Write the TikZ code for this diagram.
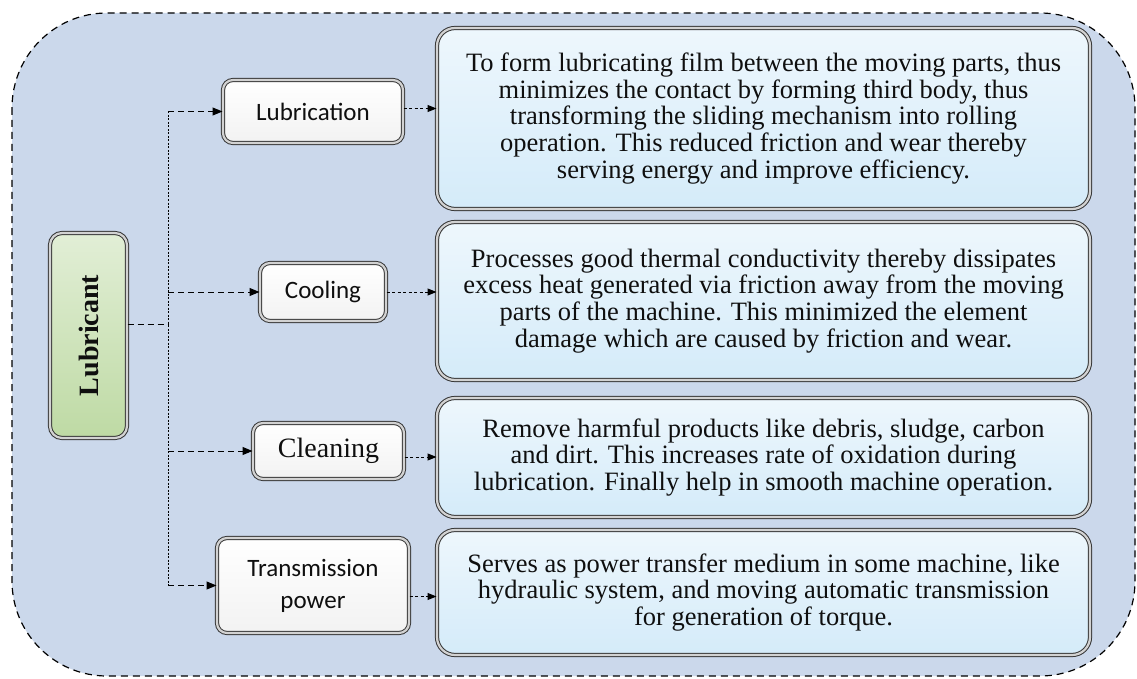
\documentclass[tikz,border=0pt]{standalone}
\usepackage{fontspec}
\setmainfont{Liberation Serif}
\newfontfamily\calfont{Carlito}
\usetikzlibrary{arrows.meta}

\definecolor{panelblue}{RGB}{203,216,235}
\definecolor{descblue}{RGB}{212,235,249}
\definecolor{lubgreen}{RGB}{190,218,164}
\definecolor{rimgray}{RGB}{55,55,55}
\definecolor{inkgray}{RGB}{15,15,15}

\tikzset{
  bevel/.style={draw=rimgray, line width=1pt, double=gray!35, double distance=2.2pt},
  lubbox/.style={bevel, rounded corners=12pt, top color=lubgreen!45!white, bottom color=lubgreen,
    text=inkgray, inner sep=0pt, font=\bfseries\fontsize{28}{30}\selectfont},
  rolebox/.style={bevel, rounded corners=10pt, top color=white, bottom color=gray!10,
    text=inkgray, align=center, inner sep=0pt, font=\calfont\fontsize{25}{32}\selectfont},
  descbox/.style={bevel, rounded corners=18pt, top color=descblue!40!white, bottom color=descblue,
    text=inkgray, align=center, inner sep=0pt, minimum width=653pt, font=\fontsize{26.5}{26.8}\selectfont},
  feed/.style={dash pattern=on 6pt off 4pt, line width=1pt},
  trunk/.style={dash pattern=on 2pt off 1.5pt, line width=1pt},
  branch/.style={dash pattern=on 6pt off 4pt, line width=1pt, -{Triangle[length=10pt,width=8pt]}},
  link/.style={dash pattern=on 3pt off 2.5pt, line width=1pt, -{Triangle[length=9pt,width=7pt]}}
}

\begin{document}
\begin{tikzpicture}[x=1pt, y=-1pt]

    \useasboundingbox (0,0) rectangle (1137,679);

    % Draw the dashed panel behind everything
    \draw[dash pattern=on 7pt off 5pt, line width=1.2pt, fill=panelblue, rounded corners=95pt]
        (12,13) rectangle (1135,676);

    % Main node on the left
    \node[lubbox, minimum width=77pt, minimum height=205pt] (lub) at (88.5,335.5) {\rotatebox{90}{Lubricant}};

    % Functions of the lubricant
    \node[rolebox, minimum width=180pt, minimum height=63pt] (lubr) at (313,111.5) {Lubrication};
    \node[rolebox, minimum width=126pt, minimum height=58pt] (cool) at (323,292) {Cooling};
    \node[rolebox, minimum width=151pt, minimum height=56pt, font=\fontsize{28}{30}\selectfont] (clean) at (328.5,451) {Cleaning};
    \node[rolebox, minimum width=192pt, minimum height=95pt] (trans) at (313,585.5) {Transmission\\power};

    % Descriptions on the right
    \node[descbox, minimum height=181pt] (d1) at (763.5,118.5) {To form lubricating film between the moving parts, thus\\
        minimizes the contact by forming third body, thus\\
        transforming the sliding mechanism into rolling\\
        operation. This reduced friction and wear thereby\\
        serving energy and improve efficiency.};
    \node[descbox, minimum height=158pt] (d2) at (763.5,301) {Processes good thermal conductivity thereby dissipates\\
        excess heat generated via friction away from the moving\\
        parts of the machine. This minimized the element\\
        damage which are caused by friction and wear.};
    \node[descbox, minimum height=119pt] (d3) at (763.5,457.5) {Remove harmful products like debris, sludge, carbon\\
        and dirt. This increases rate of oxidation during\\
        lubrication. Finally help in smooth machine operation.};
    \node[descbox, minimum height=125pt] (d4) at (763.5,592.5) {Serves as power transfer medium in some machine, like\\
        hydraulic system, and moving automatic transmission\\
        for generation of torque.};

    % Junction of the tree
    \coordinate (jt) at (168,324);

    % Draw the tree
    \draw[feed] (lub.east |- jt) -- (jt);
    \draw[trunk] (jt |- lubr) -- (jt |- trans);
    \draw[branch] (jt |- lubr) -- (lubr);
    \draw[branch] (jt |- cool) -- (cool);
    \draw[branch] (jt |- clean) -- (clean);
    \draw[branch] (jt |- trans) -- (trans);

    % Draw the arrows to the descriptions
    \draw[link] ([yshift=3pt]lubr.east) -- ([yshift=3pt]lubr.east -| d1.west);
    \draw[link] (cool.east) -- (cool.east -| d2.west);
    \draw[link] ([yshift=-6pt]clean.east) -- ([yshift=-6pt]clean.east -| d3.west);
    \draw[link] ([yshift=-11pt]trans.east) -- ([yshift=-11pt]trans.east -| d4.west);

\end{tikzpicture}
\end{document}
